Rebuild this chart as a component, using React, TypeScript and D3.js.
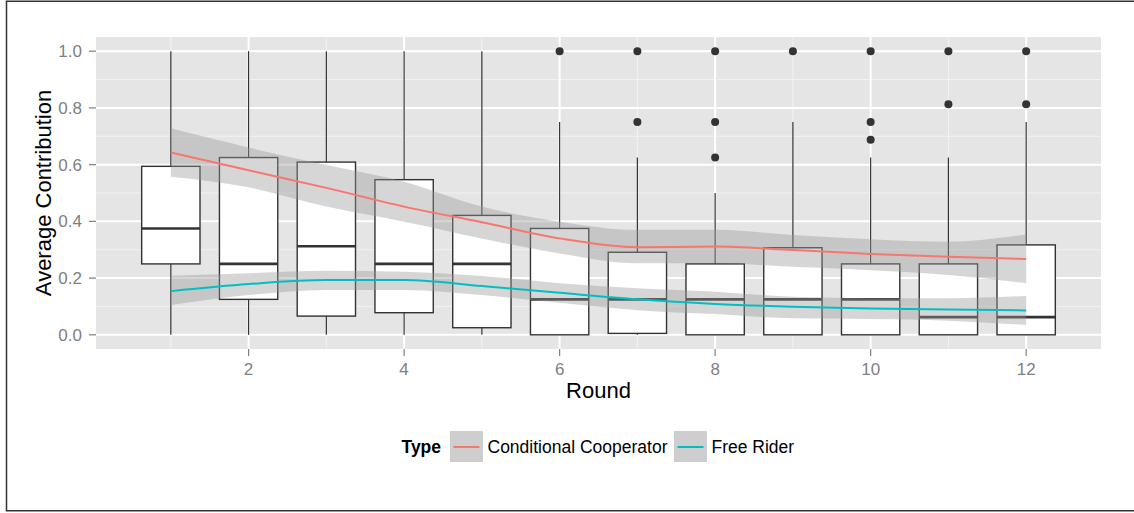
import React from 'react';
import * as d3 from 'd3';

// box statistics per round
const rounds = [1, 2, 3, 4, 5, 6, 7, 8, 9, 10, 11, 12];
const whiskerLow = [0, 0, 0, 0, 0, 0, 0, 0, 0, 0, 0, 0];
const q1 = [0.25, 0.125, 0.066, 0.078, 0.025, 0, 0.005, 0, 0, 0, 0, 0];
const median = [0.375, 0.25, 0.3125, 0.25, 0.25, 0.125, 0.125, 0.125, 0.125, 0.125, 0.0625, 0.0625];
const q3 = [0.594, 0.625, 0.609, 0.547, 0.421, 0.375, 0.291, 0.25, 0.307, 0.25, 0.25, 0.317];
const whiskerHigh = [1, 1, 1, 1, 1, 0.75, 0.625, 0.5, 0.75, 0.625, 0.625, 0.75];
const outliers = [[], [], [], [], [], [1], [1, 0.75], [1, 0.75, 0.625], [1], [1, 0.75, 0.6875], [1, 0.8125], [1, 0.8125]];

// loess fits + confidence band
const ccFit = [0.643, 0.58, 0.518, 0.452, 0.397, 0.34, 0.309, 0.311, 0.299, 0.285, 0.275, 0.267];
const ccLow = [0.557, 0.52, 0.452, 0.399, 0.34, 0.287, 0.252, 0.252, 0.24, 0.228, 0.211, 0.182];
const ccHigh = [0.728, 0.66, 0.599, 0.54, 0.452, 0.399, 0.37, 0.37, 0.352, 0.337, 0.328, 0.354];
const frFit = [0.154, 0.179, 0.193, 0.193, 0.172, 0.148, 0.125, 0.109, 0.099, 0.093, 0.089, 0.086];
const frLow = [0.105, 0.14, 0.158, 0.158, 0.14, 0.113, 0.087, 0.073, 0.058, 0.056, 0.05, 0.035];
const frHigh = [0.208, 0.217, 0.226, 0.222, 0.207, 0.182, 0.164, 0.152, 0.134, 0.129, 0.129, 0.137];

const xTicks = [2, 4, 6, 8, 10, 12];
const xMinor = [1, 3, 5, 7, 9, 11];
const yTicks = [0, 0.2, 0.4, 0.6, 0.8, 1.0];
const yMinor = [0.1, 0.3, 0.5, 0.7, 0.9];

const seriesNames = ['Conditional Cooperator', 'Free Rider'];
const seriesColors = ['#F8766D', '#00BFC4'];

const FONT = '"Liberation Sans", Arial, sans-serif';

export default function App() {
  const panel = {left: 96, right: 1101, top: 37, bottom: 349};
  const x = d3.scaleLinear().domain([0.0375, 12.9625]).range([panel.left, panel.right]);
  const y = d3.scaleLinear().domain([-0.05, 1.05]).range([panel.bottom, panel.top]);
  const boxW = x(0.75) - x(0);

  const fits = [
    {fit: ccFit, low: ccLow, high: ccHigh},
    {fit: frFit, low: frLow, high: frHigh},
  ];

  const line = d3.line<number>()
    .x((d, i) => x(rounds[i]))
    .y(d => y(d))
    .curve(d3.curveMonotoneX);

  const band = (low: number[], high: number[]) => d3.area<number>()
    .x((d, i) => x(rounds[i]))
    .y0((d, i) => y(low[i]))
    .y1((d, i) => y(high[i]))
    .curve(d3.curveMonotoneX)(rounds);

  return (
    <svg width={1134} height={513} style={{position: 'absolute', left: 0, top: 0}} fontFamily={FONT}>
      <rect x={0} y={0} width={1134} height={513} fill="white"/>
      <rect x={6.5} y={1.25} width={1140} height={509.5} fill="none" stroke="#333" strokeWidth={1.5}/>

      {/* panel */}
      <rect x={panel.left} y={panel.top} width={panel.right - panel.left} height={panel.bottom - panel.top} fill="#E5E5E5"/>
      {yMinor.map(v => (
        <line key={'ym' + v} x1={panel.left} x2={panel.right} y1={y(v)} y2={y(v)} stroke="#F2F2F2" strokeWidth={1}/>
      ))}
      {xMinor.map(v => (
        <line key={'xm' + v} x1={x(v)} x2={x(v)} y1={panel.top} y2={panel.bottom} stroke="#F2F2F2" strokeWidth={1}/>
      ))}
      {yTicks.map(v => (
        <line key={'yg' + v} x1={panel.left} x2={panel.right} y1={y(v)} y2={y(v)} stroke="white" strokeWidth={2}/>
      ))}
      {xTicks.map(v => (
        <line key={'xg' + v} x1={x(v)} x2={x(v)} y1={panel.top} y2={panel.bottom} stroke="white" strokeWidth={2}/>
      ))}

      {/* boxplots */}
      {rounds.map((r, i) => {
        const cx = x(r);
        return (
          <g key={'box' + r}>
            <line x1={cx} x2={cx} y1={y(whiskerHigh[i])} y2={y(q3[i])} stroke="#333" strokeWidth={1.2}/>
            <line x1={cx} x2={cx} y1={y(q1[i])} y2={y(whiskerLow[i])} stroke="#333" strokeWidth={1.2}/>
            <rect x={cx - boxW / 2} y={y(q3[i])} width={boxW} height={y(q1[i]) - y(q3[i])}
                  fill="white" stroke="#333" strokeWidth={1.4}/>
            <line x1={cx - boxW / 2} x2={cx + boxW / 2} y1={y(median[i])} y2={y(median[i])} stroke="#333" strokeWidth={2.6}/>
            {outliers[i].map(o => (
              <circle key={o} cx={cx} cy={y(o)} r={4} fill="#333"/>
            ))}
          </g>
        );
      })}

      {/* smooths */}
      {fits.map((f, k) => (
        <path key={'band' + k} d={band(f.low, f.high) || ''} fill="#999999" fillOpacity={0.4}/>
      ))}
      {fits.map((f, k) => (
        <path key={'fit' + k} d={line(f.fit) || ''} fill="none" stroke={seriesColors[k]} strokeWidth={2}/>
      ))}

      {/* y axis */}
      {yTicks.map(v => (
        <g key={'yt' + v}>
          <line x1={panel.left - 7} x2={panel.left} y1={y(v)} y2={y(v)} stroke="#7F7F7F" strokeWidth={1.2}/>
          <text x={panel.left - 14} y={y(v)} dy="0.36em" textAnchor="end" fontSize={17} fill="#7F7F7F">
            {v.toFixed(1)}
          </text>
        </g>
      ))}
      {/* x axis */}
      {xTicks.map(v => (
        <g key={'xt' + v}>
          <line x1={x(v)} x2={x(v)} y1={panel.bottom} y2={panel.bottom + 7} stroke="#7F7F7F" strokeWidth={1.2}/>
          <text x={x(v)} y={374.5} textAnchor="middle" fontSize={17} fill="#7F7F7F">{v}</text>
        </g>
      ))}

      <text x={(panel.left + panel.right) / 2} y={398.3} textAnchor="middle" fontSize={22} fill="black">Round</text>
      <text transform={`translate(51,${(panel.top + panel.bottom) / 2}) rotate(-90)`} textAnchor="middle" fontSize={22} fill="black">
        Average Contribution
      </text>

      {/* legend */}
      <text x={401.5} y={452.6} fontSize={17.5} fontWeight="bold" fill="black">Type</text>
      {seriesNames.map((name, k) => {
        const kx = k === 0 ? 450 : 674;
        return (
          <g key={name}>
            <rect x={kx} y={431} width={33} height={31} fill="#F2F2F2"/>
            <rect x={kx} y={431} width={33} height={31} fill="#999999" fillOpacity={0.4}/>
            <line x1={kx + 3.5} x2={kx + 29.5} y1={447} y2={447} stroke={seriesColors[k]} strokeWidth={2}/>
            <text x={kx + 37.5} y={452.6} fontSize={17.5} fill="black">{name}</text>
          </g>
        );
      })}
    </svg>
  );
}
